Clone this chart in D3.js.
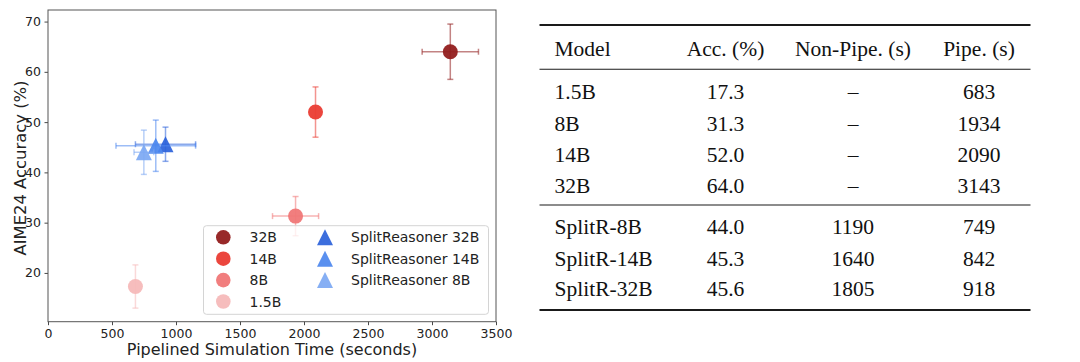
<!DOCTYPE html>
<html>
<head>
<meta charset="utf-8">
<script src="https://cdn.jsdelivr.net/npm/d3@7"></script>
<style>
  html, body { margin: 0; padding: 0; background: #fff; }
  svg { display: block; }
</style>
</head>
<body>
<svg id="chart" width="1080" height="362"></svg>
<script>
// baseline models (circles)
const baseNames = ['32B', '14B', '8B', '1.5B'];
const baseTime = [3143, 2090, 1934, 683];
const baseAcc = [64.0, 52.0, 31.3, 17.3];
const baseTimeErr = [220, 0, 180, 0];
const baseAccErr = [5.5, 5.0, 3.9, 4.3];
const baseColors = ['#921d1d', '#ea3c33', '#f07777', '#f5b9b9'];

// SplitReasoner models (triangles)
const splitNames = ['SplitReasoner 32B', 'SplitReasoner 14B', 'SplitReasoner 8B'];
const splitTime = [918, 842, 749];
const splitAcc = [45.6, 45.3, 44.0];
const splitTimeErr = [235, 311, 77];
const splitAccErr = [3.4, 5.1, 4.4];
const splitColors = ['#2b62da', '#4c87ee', '#7ca8f3'];

const xTicks = [0, 500, 1000, 1500, 2000, 2500, 3000, 3500];
const yTicks = [20, 30, 40, 50, 60, 70];

// table on the right
const tableHeader = ['Model', 'Acc. (%)', 'Non-Pipe. (s)', 'Pipe. (s)'];
const tableModels = ['1.5B', '8B', '14B', '32B', 'SplitR-8B', 'SplitR-14B', 'SplitR-32B'];
const tableAcc = ['17.3', '31.3', '52.0', '64.0', '44.0', '45.3', '45.6'];
const tableNonPipe = ['–', '–', '–', '–', '1190', '1640', '1805'];
const tablePipe = ['683', '1934', '2090', '3143', '749', '842', '918'];

const svg = d3.select('#chart');
const sans = "'DejaVu Sans', sans-serif";
const serif = "'Liberation Serif', 'Times New Roman', serif";

// ---- scatter plot ----
const plot = { left: 48, right: 496, top: 10, bottom: 321.7 };

const xScale = d3.scaleLinear().domain([0, 3500]).range([plot.left, plot.right]);
const yScale = d3.scaleLinear().domain([10.3, 72.3]).range([plot.bottom, plot.top]);

const points = [];
baseNames.forEach((n, i) => points.push({
  name: n, shape: 'circle', x: baseTime[i], y: baseAcc[i],
  xe: baseTimeErr[i], ye: baseAccErr[i], color: baseColors[i]
}));
splitNames.forEach((n, i) => points.push({
  name: n, shape: 'triangle', x: splitTime[i], y: splitAcc[i],
  xe: splitTimeErr[i], ye: splitAccErr[i], color: splitColors[i]
}));

const triPath = (s) => `M0,${-s}L${s},${s}L${-s},${s}Z`;
const cap = 3;

const marks = svg.append('g').attr('class', 'marks');
points.forEach((d) => {
  const g = marks.append('g');
  const cx = xScale(d.x);
  const cy = yScale(d.y);
  const eb = g.append('g')
    .attr('stroke', d.color)
    .attr('stroke-opacity', 0.55)
    .attr('stroke-width', 1.5)
    .attr('fill', 'none');
  if (d.ye > 0) {
    const y1 = yScale(d.y + d.ye);
    const y2 = yScale(d.y - d.ye);
    eb.append('line').attr('x1', cx).attr('x2', cx).attr('y1', y1).attr('y2', y2);
    [y1, y2].forEach((yy) => eb.append('line')
      .attr('x1', cx - cap).attr('x2', cx + cap).attr('y1', yy).attr('y2', yy));
  }
  if (d.xe > 0) {
    const x1 = xScale(d.x - d.xe);
    const x2 = xScale(d.x + d.xe);
    eb.append('line').attr('x1', x1).attr('x2', x2).attr('y1', cy).attr('y2', cy);
    [x1, x2].forEach((xx) => eb.append('line')
      .attr('x1', xx).attr('x2', xx).attr('y1', cy - cap).attr('y2', cy + cap));
  }
  if (d.shape === 'circle') {
    g.append('circle').attr('cx', cx).attr('cy', cy).attr('r', 7.5)
      .attr('fill', d.color).attr('fill-opacity', 0.95);
  } else {
    g.append('path').attr('d', triPath(8))
      .attr('transform', `translate(${cx},${cy})`)
      .attr('fill', d.color).attr('fill-opacity', 0.92);
  }
});

// axes
const xAxis = d3.axisBottom(xScale).tickValues(xTicks).tickFormat(d3.format('d'))
  .tickSize(3.5).tickPadding(3.5).tickSizeOuter(0);
const yAxis = d3.axisLeft(yScale).tickValues(yTicks).tickFormat(d3.format('d'))
  .tickSize(3.5).tickPadding(3.5).tickSizeOuter(0);

const gx = svg.append('g')
  .attr('transform', `translate(0,${plot.bottom})`)
  .call(xAxis);
const gy = svg.append('g')
  .attr('transform', `translate(${plot.left},0)`)
  .call(yAxis);

[gx, gy].forEach((g) => {
  g.select('.domain').remove();
  g.selectAll('.tick line').attr('stroke', '#333').attr('stroke-width', 0.9);
  g.selectAll('.tick text')
    .attr('fill', '#222')
    .style('font-family', sans)
    .style('font-size', '12.5px');
});

// frame
svg.append('rect')
  .attr('x', plot.left).attr('y', plot.top)
  .attr('width', plot.right - plot.left).attr('height', plot.bottom - plot.top)
  .attr('fill', 'none').attr('stroke', '#555').attr('stroke-width', 1);

svg.append('text')
  .attr('x', (plot.left + plot.right) / 2)
  .attr('y', 355)
  .attr('text-anchor', 'middle')
  .style('font-family', sans).style('font-size', '16px').attr('fill', '#222')
  .text('Pipelined Simulation Time (seconds)');

svg.append('text')
  .attr('transform', `translate(25.5,168) rotate(-90)`)
  .attr('text-anchor', 'middle')
  .style('font-family', sans).style('font-size', '16.4px').attr('fill', '#222')
  .text('AIME24 Accuracy (%)');

// legend, two columns
const legend = svg.append('g');
legend.append('rect')
  .attr('x', 203.5).attr('y', 225.7).attr('width', 285).attr('height', 88.6)
  .attr('rx', 3)
  .attr('fill', '#fff').attr('fill-opacity', 0.8)
  .attr('stroke', '#d4d4d4').attr('stroke-width', 1);

const rowY = (i) => 237.3 + i * 21.4;
const legendCols = [
  { items: points.filter((p) => p.shape === 'circle'), mx: 223.3, tx: 249.5 },
  { items: points.filter((p) => p.shape === 'triangle'), mx: 325, tx: 351 },
];
legendCols.forEach((col) => {
  col.items.forEach((d, i) => {
    const yy = rowY(i);
    if (d.shape === 'circle') {
      legend.append('circle').attr('cx', col.mx).attr('cy', yy).attr('r', 7.3)
        .attr('fill', d.color).attr('fill-opacity', 0.95);
    } else {
      legend.append('path').attr('d', triPath(8))
        .attr('transform', `translate(${col.mx},${yy})`)
        .attr('fill', d.color).attr('fill-opacity', 0.92);
    }
    legend.append('text')
      .attr('x', col.tx).attr('y', yy)
      .attr('dy', '0.36em')
      .style('font-family', sans).style('font-size', '14px').attr('fill', '#222')
      .text(d.name);
  });
});

// ---- table ----
const table = svg.append('g');
const tLeft = 539.5;
const tRight = 1030.5;
const colX = [554.5, 725.5, 853, 979];
const colAnchor = ['start', 'middle', 'middle', 'middle'];
const rowsY = [91.7, 123.3, 154, 185, 226.7, 258, 288.5];

const rules = [
  { y: 25, w: 1.8 },
  { y: 69.3, w: 1.1 },
  { y: 205, w: 1.1 },
  { y: 310, w: 1.8 },
];
rules.forEach((r) => table.append('line')
  .attr('x1', tLeft).attr('x2', tRight).attr('y1', r.y).attr('y2', r.y)
  .attr('stroke', '#1a1a1a').attr('stroke-width', r.w));

const cellText = (x, y, anchor, txt) => table.append('text')
  .attr('x', x).attr('y', y).attr('dy', '0.35em')
  .attr('text-anchor', anchor)
  .style('font-family', serif).style('font-size', '21.5px').attr('fill', '#111')
  .text(txt);

tableHeader.forEach((h, j) => cellText(colX[j], 48.3, colAnchor[j], h));

tableModels.forEach((m, i) => {
  const row = [m, tableAcc[i], tableNonPipe[i], tablePipe[i]];
  row.forEach((v, j) => cellText(colX[j], rowsY[i], colAnchor[j], v));
});
</script>
</body>
</html>
